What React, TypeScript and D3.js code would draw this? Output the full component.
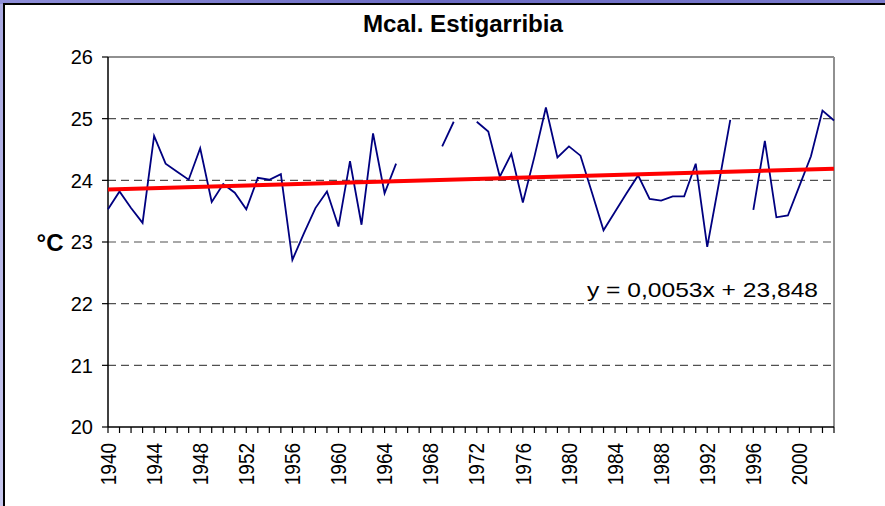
import React from "react";
import * as d3 from "d3";

const years: number[] = d3.range(1940, 2004);
const temps: (number | null)[] = [
  23.53, 23.82, 23.55, 23.31, 24.72, 24.27, 24.14, 24.01, 24.52, 23.65,
  23.94, 23.80, 23.53, 24.04, 24.01, 24.10, 22.71, 23.14, 23.55, 23.82,
  23.25, 24.31, 23.28, 24.76, 23.79, 24.27, null, null, null, 24.55,
  24.95, null, 24.95, 24.79, 24.06, 24.43, 23.64, 24.38, 25.18, 24.37,
  24.55, 24.40, 23.80, 23.19, 23.49, 23.79, 24.08, 23.70, 23.67, 23.74,
  23.74, 24.27, 22.92, 23.94, 24.98, null, 23.52, 24.64, 23.40, 23.43,
  23.91, 24.39, 25.13, 24.97,
];
const yTicks: number[] = [20, 21, 22, 23, 24, 25, 26];
const xLabelYears: number[] = d3.range(1940, 2001, 4);
const trendSlope = 0.0053;
const trendIntercept = 23.848;
const title = "Mcal. Estigarribia";
const yLabel = "°C";
const equation = "y = 0,0053x + 23,848";

const W = 885;
const H = 506;
const left = 108;
const right = 834;
const top = 57;
const bottom = 427;

export default function App() {
  const x = d3.scaleLinear().domain([1940, 2003]).range([left, right]);
  const y = d3.scaleLinear().domain([20, 26]).range([bottom, top]);

  const pts = years.map((yr, i) => ({ yr, v: temps[i] }));
  const line = d3
    .line<{ yr: number; v: number | null }>()
    .defined((d) => d.v !== null)
    .x((d) => x(d.yr))
    .y((d) => y(d.v as number));

  const trend = [years[0], years[years.length - 1]].map((yr) => ({
    yr,
    v: trendIntercept + trendSlope * (yr - years[0] + 1),
  }));
  const trendLine = d3
    .line<{ yr: number; v: number }>()
    .x((d) => x(d.yr))
    .y((d) => y(d.v));

  const font = "Liberation Sans, Arial, sans-serif";

  return (
    <div style={{ position: "fixed", left: 0, top: 0, width: W, height: H }}>
      <svg width={W} height={H} style={{ display: "block" }}>
        <defs>
          <linearGradient id="bgTop" x1="0" y1="0" x2="1" y2="0">
            <stop offset="0" stopColor="#8e8ed8" />
            <stop offset="0.5" stopColor="#6c6cc4" />
            <stop offset="1" stopColor="#7a7acc" />
          </linearGradient>
          <linearGradient id="bgLeft" x1="0" y1="0" x2="0" y2="1">
            <stop offset="0" stopColor="#a8a8e0" />
            <stop offset="1" stopColor="#c8c8ee" />
          </linearGradient>
        </defs>
        <rect x={0} y={0} width={W} height={H} fill="url(#bgLeft)" />
        <rect x={0} y={0} width={W} height={4} fill="url(#bgTop)" />
        <rect x={4} y={4} width={W + 10} height={H + 10} fill="#ffffff" stroke="#000" strokeWidth={2} />

        {/* gridlines */}
        {yTicks
          .filter((t) => t > 20 && t < 26)
          .map((t) => (
            <line
              key={"g" + t}
              x1={left}
              x2={right}
              y1={y(t)}
              y2={y(t)}
              stroke="#505050"
              strokeWidth={1.2}
              strokeDasharray="8 5"
            />
          ))}
        {/* plot frame top/right */}
        <line x1={left} x2={right} y1={top} y2={top} stroke="#909090" strokeWidth={2} />
        <line x1={right} x2={right} y1={top} y2={bottom} stroke="#909090" strokeWidth={2} />

        {/* axes */}
        <line x1={left} x2={left} y1={top} y2={bottom} stroke="#000" strokeWidth={1.5} />
        <line x1={left} x2={right} y1={bottom} y2={bottom} stroke="#000" strokeWidth={1.5} />
        {yTicks.map((t) => (
          <g key={"yt" + t}>
            <line x1={left - 6} x2={left} y1={y(t)} y2={y(t)} stroke="#000" strokeWidth={1.2} />
            <text
              x={93}
              y={y(t)}
              dy="0.36em"
              textAnchor="end"
              fontFamily={font}
              fontSize={20}
              fill="#000"
            >
              {t}
            </text>
          </g>
        ))}
        {years.map((yr) => (
          <line
            key={"xt" + yr}
            x1={x(yr)}
            x2={x(yr)}
            y1={bottom}
            y2={bottom + 6}
            stroke="#000"
            strokeWidth={1.2}
          />
        ))}
        {xLabelYears.map((yr) => (
          <text
            key={"xl" + yr}
            transform={`translate(${x(yr)},443) scale(1.12,1) rotate(-90)`}
            dy="0.36em"
            textAnchor="end"
            fontFamily={font}
            fontSize={19}
            fill="#000"
          >
            {yr}
          </text>
        ))}

        {/* data line */}
        <path d={line(pts) || ""} fill="none" stroke="#000080" strokeWidth={1.8} strokeLinejoin="miter" />
        {/* trend */}
        <path d={trendLine(trend) || ""} fill="none" stroke="#ff0000" strokeWidth={4} />

        {/* texts */}
        <text
          x={463}
          y={32}
          textAnchor="middle"
          fontFamily={font}
          fontWeight="bold"
          fontSize={23}
          textLength={200}
          lengthAdjust="spacingAndGlyphs"
          fill="#000"
        >
          {title}
        </text>
        <text
          x={50}
          y={242}
          dy="0.36em"
          textAnchor="middle"
          fontFamily={font}
          fontWeight="bold"
          fontSize={24}
          fill="#000"
        >
          {yLabel}
        </text>
        <text
          x={587}
          y={297}
          fontFamily={font}
          fontSize={21}
          textLength={231}
          lengthAdjust="spacingAndGlyphs"
          fill="#000"
        >
          {equation}
        </text>
      </svg>
    </div>
  );
}
